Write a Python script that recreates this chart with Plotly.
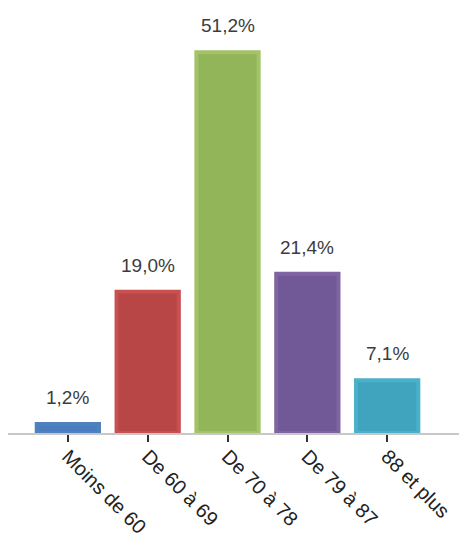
import plotly.graph_objects as go

categories = ["Moins de 60", "De 60 à 69", "De 70 à 78", "De 79 à 87", "88 et plus"]
values = [1.2, 19.0, 51.2, 21.4, 7.1]
labels = ["1,2%", "19,0%", "51,2%", "21,4%", "7,1%"]
fill_colors = ["#4a7cc0", "#b84646", "#92b55a", "#715896", "#40a4be"]
line_colors = ["#4f81bd", "#c8504f", "#a3c466", "#8064a2", "#4bb0c9"]

FONT = "Liberation Sans, Arial, sans-serif"

fig = go.Figure(go.Bar(
    x=categories,
    y=values,
    marker=dict(color=fill_colors, line=dict(color=line_colors, width=4)),
    width=0.78,
))

for cat, val, lab in zip(categories, values, labels):
    fig.add_annotation(
        x=cat, y=val, text=lab, showarrow=False,
        xref="x", yref="y", yanchor="bottom", yshift=14,
        font=dict(family=FONT, size=19, color="#3c3c3c"),
    )

fig.update_layout(
    width=459, height=534,
    margin=dict(l=0, r=0, t=16, b=109, autoexpand=False),
    paper_bgcolor="white", plot_bgcolor="white",
    showlegend=False,
    xaxis=dict(
        range=[-0.75, 5.0],
        tickangle=45,
        ticks="outside", ticklen=7, tickcolor="#333333", tickwidth=1.5,
        showline=True, linecolor="#c8c8c8", linewidth=2,
        showgrid=False,
        automargin=False,
        ticklabelstandoff=-5,
        tickfont=dict(family=FONT, size=20, color="#222222"),
    ),
    yaxis=dict(range=[0, 55], visible=False, showgrid=False, zeroline=False),
)

fig.write_html("out.html")
